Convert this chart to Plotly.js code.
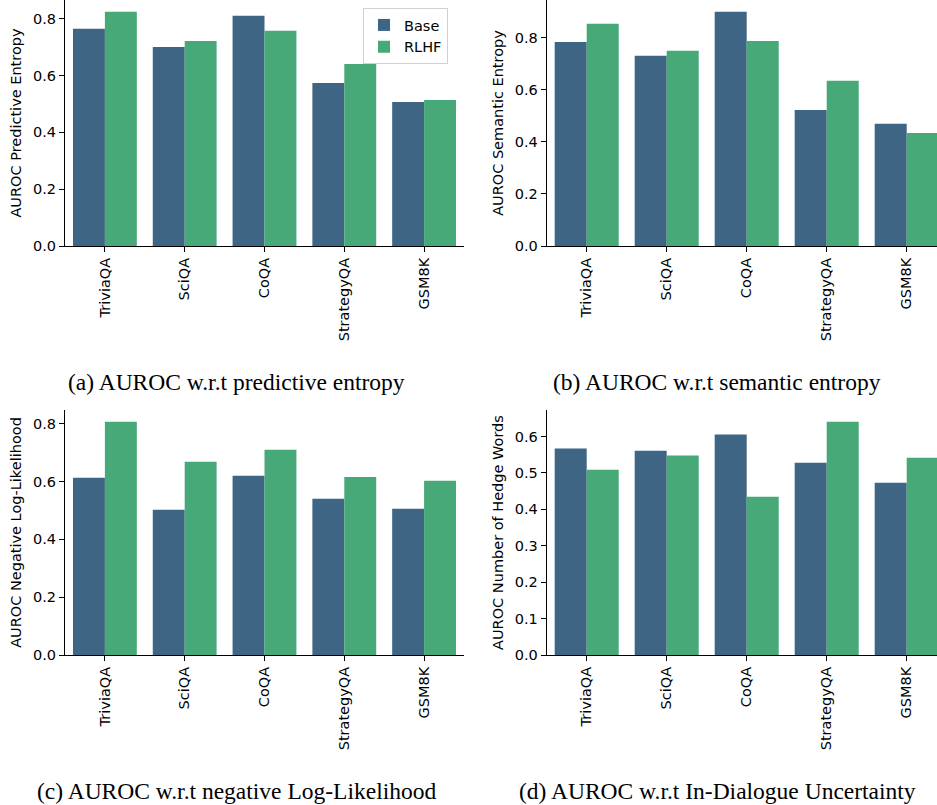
<!DOCTYPE html>
<html>
<head>
<meta charset="utf-8">
<script src="https://cdn.plot.ly/plotly-3.0.1.min.js"></script>
<style>html,body{margin:0;padding:0;background:#fff;}#chart{width:937px;height:805px;}</style>
</head>
<body>
<div id="chart"></div>
<script>
// ---- data ----
const categories = ["TriviaQA", "SciQA", "CoQA", "StrategyQA", "GSM8K"];
const seriesNames = ["Base", "RLHF"];

const predEntropyBase = [0.765, 0.701, 0.811, 0.574, 0.507];
const predEntropyRLHF = [0.825, 0.722, 0.758, 0.641, 0.514];

const semEntropyBase = [0.783, 0.730, 0.899, 0.522, 0.469];
const semEntropyRLHF = [0.853, 0.749, 0.787, 0.634, 0.434];

const nllBase = [0.613, 0.502, 0.620, 0.540, 0.506];
const nllRLHF = [0.807, 0.668, 0.710, 0.616, 0.603];

const hedgeBase = [0.567, 0.561, 0.606, 0.528, 0.473];
const hedgeRLHF = [0.509, 0.548, 0.435, 0.641, 0.542];

const yTitles = ["AUROC Predictive Entropy", "AUROC Semantic Entropy",
                 "AUROC Negative Log-Likelihood", "AUROC Number of Hedge Words"];
const captions = ["(a) AUROC w.r.t predictive entropy", "(b) AUROC w.r.t semantic entropy",
                  "(c) AUROC w.r.t negative Log-Likelihood", "(d) AUROC w.r.t In-Dialogue Uncertainty"];

// ---- style ----
const colors = ["#3e6583", "#47a878"];
const W = 937, H = 805;
const tickFont = {family: "DejaVu Sans", size: 14.5, color: "#000"};

const panels = [
  {base: predEntropyBase, rlhf: predEntropyRLHF},
  {base: semEntropyBase, rlhf: semEntropyRLHF},
  {base: nllBase, rlhf: nllRLHF},
  {base: hedgeBase, rlhf: hedgeRLHF}
];

const traces = [];
panels.forEach((p, i) => {
  const s = i === 0 ? "" : String(i + 1);
  [p.base, p.rlhf].forEach((vals, k) => {
    traces.push({
      type: "bar",
      x: categories,
      y: vals,
      name: seriesNames[k],
      legendgroup: seriesNames[k],
      showlegend: i === 0,
      marker: {color: colors[k], line: {width: 0}},
      xaxis: "x" + s,
      yaxis: "y" + s,
      hoverinfo: "x+y+name"
    });
  });
});

function yRange(a, b) {
  const m = Math.max(...a, ...b);
  return [0, m * 1.05];
}

// pixel geometry
const leftX = [65, 546.7];
const rightX = [464, 946.7];
const topY = [0, 410];
const botY = [246, 655];

const layout = {
  width: W, height: H,
  margin: {l: 0, r: 0, t: 0, b: 0},
  paper_bgcolor: "#fff",
  plot_bgcolor: "#fff",
  barmode: "group",
  bargap: 0.2,
  bargroupgap: 0,
  showlegend: true,
  legend: {
    x: 363 / W, y: 1 - 8 / H, xanchor: "left", yanchor: "top",
    bgcolor: "rgba(255,255,255,0.8)", bordercolor: "#d0d0d0", borderwidth: 1,
    font: {family: "DejaVu Sans", size: 14.5, color: "#000"},
    tracegroupgap: 0
  },
  annotations: []
};

panels.forEach((p, i) => {
  const s = i === 0 ? "" : String(i + 1);
  const col = i % 2, row = Math.floor(i / 2);
  const xl = leftX[col], xr = rightX[col];
  const domRight = Math.min(xr, W);
  const pxPerCat = (xr - xl) / 5;
  const rangeRight = -0.5 + (domRight - xl) / pxPerCat;
  layout["xaxis" + s] = {
    domain: [xl / W, domRight / W],
    range: [-0.5, rangeRight],
    anchor: "y" + s,
    type: "category",
    showline: true, linecolor: "#000", linewidth: 1.1,
    showgrid: false, zeroline: false,
    ticks: "outside", ticklen: 5, tickwidth: 1.1, tickcolor: "#000",
    tickangle: -90,
    tickfont: tickFont,
    fixedrange: true
  };
  const dt = i === 3 ? 0.1 : 0.2;
  layout["yaxis" + s] = {
    domain: [1 - botY[row] / H, 1 - topY[row] / H],
    range: yRange(p.base, p.rlhf),
    anchor: "x" + s,
    showline: true, linecolor: "#000", linewidth: 1.1,
    showgrid: false, zeroline: false,
    ticks: "outside", ticklen: 5, tickwidth: 1.1, tickcolor: "#000",
    dtick: dt, tick0: 0, tickformat: ".1f",
    tickfont: tickFont,
    title: {text: yTitles[i], font: {family: "DejaVu Sans", size: 14.5, color: "#000"}, standoff: 7},
    fixedrange: true
  };
  layout.annotations.push({
    text: captions[i],
    xref: "paper", yref: "paper",
    x: (col === 0 ? 236 : 717) / W,
    y: 1 - (row === 0 ? 382 : 791) / H,
    xanchor: "center", yanchor: "middle",
    showarrow: false,
    font: {family: "Liberation Serif", size: 23.5, color: "#000"}
  });
});

Plotly.newPlot("chart", traces, layout, {displayModeBar: false, staticPlot: false});
</script>
</body>
</html>
